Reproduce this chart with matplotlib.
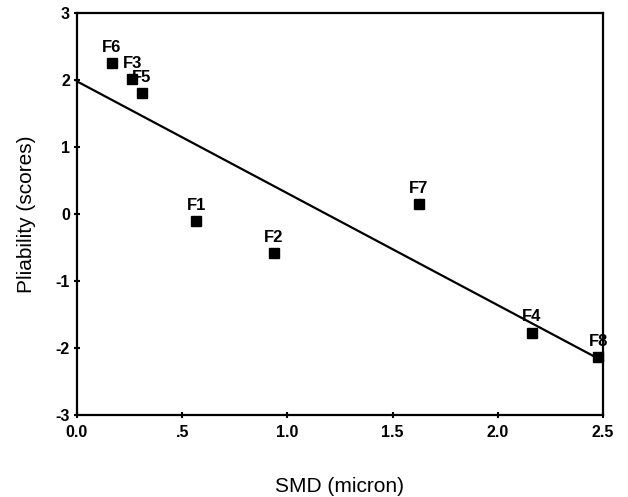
import matplotlib
matplotlib.use("Agg")
import matplotlib.pyplot as plt
import numpy as np

plt.rcParams['font.family'] = ['Liberation Sans', 'DejaVu Sans']
plt.rcParams['axes.unicode_minus'] = False

labels = ["F6", "F3", "F5", "F1", "F2", "F7", "F4", "F8"]
smd = [0.166, 0.263, 0.309, 0.568, 0.936, 1.625, 2.163, 2.478]
pliability = [2.25, 2.01, 1.81, -0.11, -0.58, 0.15, -1.77, -2.13]
fit_intercept = 1.98
fit_slope = -1.67
xticks = [0.0, 0.5, 1.0, 1.5, 2.0, 2.5]
xticklabels = ["0.0", ".5", "1.0", "1.5", "2.0", "2.5"]
yticks = [-3, -2, -1, 0, 1, 2, 3]

fig = plt.figure(figsize=(6.28, 4.97), dpi=100)
ax = fig.add_axes([0.1226, 0.165, 0.8374, 0.8088])

xs = np.array([0.0, 2.5])
ax.plot(xs, fit_intercept + fit_slope * xs, color='black', lw=1.6, zorder=2,
        clip_on=False)
ax.plot(smd, pliability, 's', color='black', markersize=6.5, zorder=3,
        clip_on=False)
for lab, x, y in zip(labels, smd, pliability):
    ax.annotate(lab, (x, y), xytext=(0, 8), textcoords='offset points',
                ha='center', va='baseline', fontsize=12, fontweight='bold')

ax.set_xlim(0, 2.5)
ax.set_ylim(-3, 3)
ax.set_xticks(xticks)
ax.set_xticklabels(xticklabels)
ax.set_yticks(yticks)
ax.tick_params(direction='inout', length=4, width=1.5, labelsize=11.5)
ax.tick_params(axis='y', pad=3)
ax.tick_params(axis='x', pad=5)
for t in ax.get_xticklabels() + ax.get_yticklabels():
    t.set_fontweight('bold')
for s in ax.spines.values():
    s.set_linewidth(1.6)
ax.set_xlabel("SMD (micron)", fontsize=15, labelpad=27)
ax.set_ylabel("Pliability (scores)", fontsize=15, labelpad=14)

fig.savefig("out.png", dpi=100)
